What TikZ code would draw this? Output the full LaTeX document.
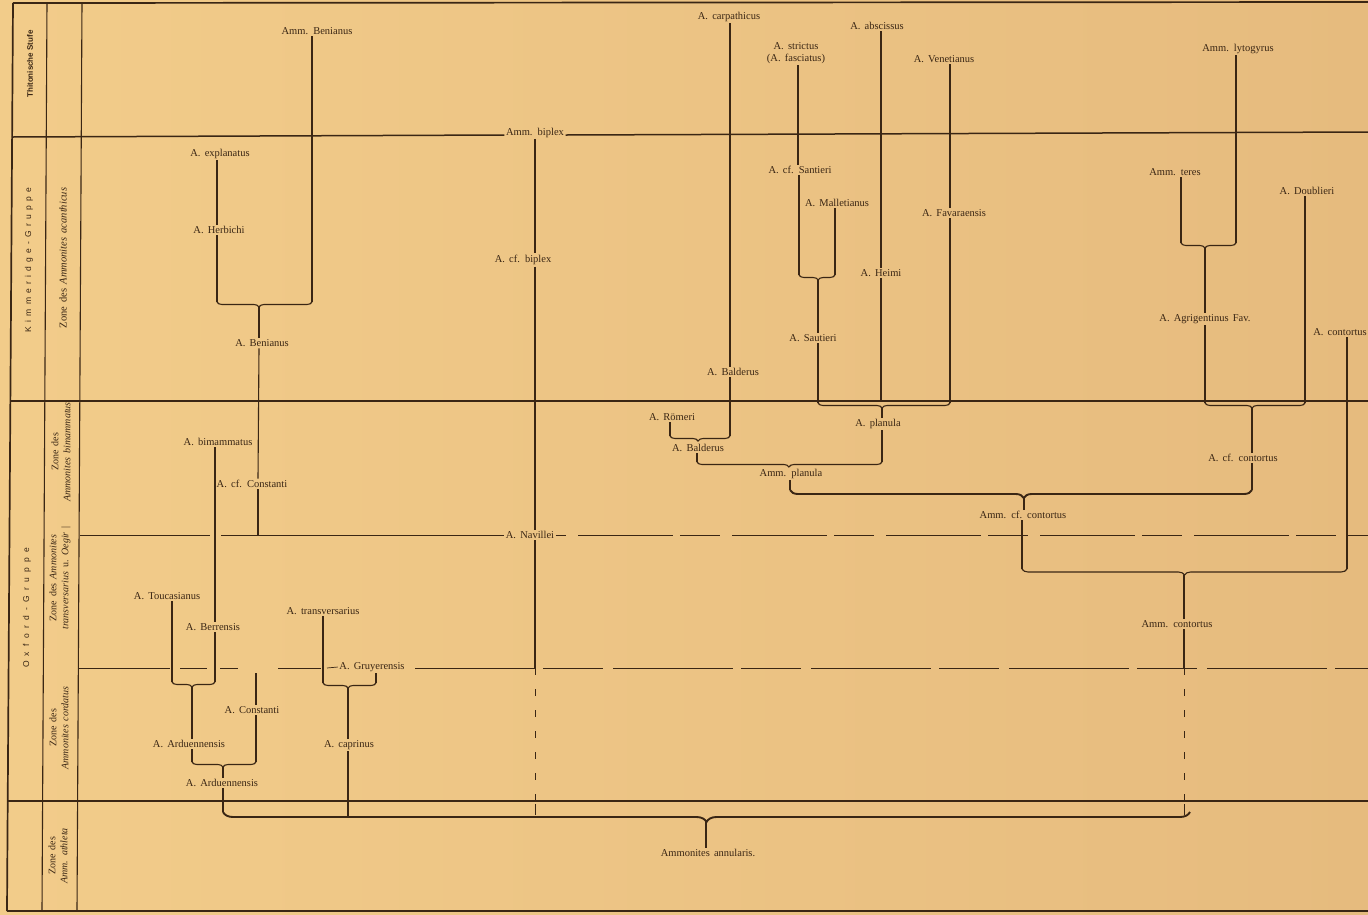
\documentclass[tikz,border=0pt]{standalone}
\usepackage{fontspec}
\setmainfont{Liberation Serif}[WordSpace=1.6]
\newfontfamily\grpfont{Liberation Sans}[LetterSpace=50]
\newfontfamily\grpwidefont{Liberation Sans}[LetterSpace=62]
\newfontfamily\stufefont{Liberation Sans}
\usetikzlibrary{decorations.pathreplacing}
\definecolor{ink}{HTML}{3A2614}
\definecolor{paperL}{HTML}{F2CC8A}
\definecolor{paperR}{HTML}{E6BB7E}
\begin{document}
\begin{tikzpicture}[x=1pt,y=-1pt,
  lbl/.style={inner sep=1.5pt, text=ink, font=\fontsize{10.5}{12}\selectfont},
  zonetxt/.style={inner sep=0pt, text=ink, rotate=90, align=center, font=\fontsize{10}{12}\selectfont},
  grptxt/.style={inner sep=0pt, text=ink, rotate=90, font=\grpfont\fontsize{8.5}{10}\selectfont},
  conn/.style={draw=ink, line width=1.1pt},
  stage/.style={draw=ink, line width=1.7pt},
  zone/.style={draw=ink, line width=0.7pt},
  dsh/.style={draw=ink, line width=1pt, dash pattern=on 7pt off 14pt},
  brc/.style={draw=ink, line width=1.1pt, decorate, decoration={brace, amplitude=5pt, aspect=#1}},
  brc/.default=0.5,
  bigbrc/.style={draw=ink, line width=1.9pt, decorate, decoration={brace, amplitude=#1}},
  bigbrc/.default=8pt
]
\useasboundingbox (0,0) rectangle (1368,914);
\shade[left color=paperL, right color=paperR] (0,0) rectangle (1368,914);

% ---------- frame and stage lines ----------
\draw[stage] (13,3) -- (1368,2);
\draw[stage] (7,911) -- (1368,911);
\draw[stage] (13,3) -- (7,911);
\draw[conn] (47,3) -- (42,911);
\draw[conn] (82,3) -- (77,911);
\draw[stage] (11,401) -- (1368,401);
\draw[stage] (8,801) -- (1368,801);

% ---------- left columns ----------
\node[grptxt, font=\stufefont\bfseries\fontsize{8}{10}\selectfont] (stTith) at (30,64) {Thitonische Stufe};
\node[grptxt] (stKimm) at (29,260) {Kimmeridge-Gruppe};
\node[grptxt, font=\grpwidefont\fontsize{8.5}{10}\selectfont] (stOxf) at (27,608) {Oxford-Gruppe};
\node[zonetxt, font=\fontsize{10.5}{12}\selectfont] (zAcan) at (63,258) {Zone des \textit{Ammonites acanthicus}};
\node[zonetxt] (zBim) at (61,452) {Zone des\\\textit{Ammonites bimammatus}};
\node[zonetxt] (zTrans) at (60,578) {Zone des \textit{Ammonites}\\\textit{transversarius} u. \textit{Oegir} |};
\node[zonetxt] (zCord) at (59,728) {Zone des\\\textit{Ammonites cordatus}};
\node[zonetxt] (zAth) at (58,856) {Zone des\\\textit{Amm. athleta}};

% ---------- labels: Thitonische Stufe ----------
\node[lbl] (T1) at (317,31) {Amm. Benianus};
\node[lbl] (T2) at (729,17) {A. carpathicus};
\node[lbl, align=center] (T3) at (796,53) {A. strictus\\(A. fasciatus)};
\node[lbl] (T4) at (877,26) {A. abscissus};
\node[lbl] (T5) at (944,59) {A. Venetianus};
\node[lbl] (T6) at (1238,49) {Amm. lytogyrus};
\node[lbl, anchor=base] (biplex) at (535,135) {Amm. biplex};

% ---------- labels: Kimmeridge ----------
\node[lbl] (explanatus) at (220,154) {A. explanatus};
\node[lbl] (Herbichi) at (219,230) {A. Herbichi};
\node[lbl] (Benianus2) at (262,343) {A. Benianus};
\node[lbl] (cfbiplex) at (523,260) {A. cf. biplex};
\node[lbl] (cfSantieri) at (800,170) {A. cf. Santieri};
\node[lbl] (Malletianus) at (837,203) {A. Malletianus};
\node[lbl] (Sautieri) at (813,338) {A. Sautieri};
\node[lbl] (Heimi) at (881,273) {A. Heimi};
\node[lbl] (Favaraensis) at (954,213) {A. Favaraensis};
\node[lbl] (Balderus1) at (733,372) {A. Balderus};
\node[lbl] (teres) at (1175,172) {Amm. teres};
\node[lbl] (Agrigentinus) at (1205,319) {A. Agrigentinus Fav.};
\node[lbl] (Doublieri) at (1307,191) {A. Doublieri};
\node[lbl] (contortus1) at (1340,332) {A. contortus};

% ---------- labels: Oxford ----------
\node[lbl] (bimammatus) at (218,442) {A. bimammatus};
\node[lbl] (cfConstanti) at (252,484) {A. cf. Constanti};
\node[lbl] (Navillei) at (530,535) {A. Navillei};
\node[lbl] (Romeri) at (672,417) {A. Römeri};
\node[lbl] (Balderus2) at (698,448) {A. Balderus};
\node[lbl] (planula1) at (878,424) {A. planula};
\node[lbl] (planula2) at (791,474) {Amm. planula};
\node[lbl] (cfcontortus) at (1243,458) {A. cf. contortus};
\node[lbl] (ammcfcontortus) at (1023,515) {Amm. cf. contortus};
\node[lbl] (Toucasianus) at (167,596) {A. Toucasianus};
\node[lbl] (Berrensis) at (213,627) {A. Berrensis};
\node[lbl] (transversarius) at (323,611) {A. transversarius};
\node[lbl] (Gruyerensis) at (372,667) {A. Gruyerensis};
\node[lbl] (ammcontortus) at (1177,624) {Amm. contortus};
\node[lbl] (Constanti) at (252,710) {A. Constanti};
\node[lbl] (Arduennensis1) at (189,744) {A. Arduennensis};
\node[lbl] (caprinus) at (349,745) {A. caprinus};
\node[lbl] (Arduennensis2) at (222,783) {A. Arduennensis};
\node[lbl] (annularis) at (708,853) {Ammonites annularis.};

% ---------- biplex line and zone lines ----------
\draw[stage, line width=1.5pt] (12,137) -- (biplex.base west);
\draw[stage, line width=1.5pt] (biplex.base east) -- (1368,132);

\coordinate (zA0) at (80,535);
\coordinate (zA1) at (210,535);
\coordinate (zA2) at (221,535);
\coordinate (zA3) at (578,535);
\coordinate (zA4) at (1368,535);
\draw[zone] (zA0) -- (zA1);
\draw[zone] (zA2) -- (Navillei.west);
\draw[zone] (Navillei.east) -- ++(10,0);
\draw[zone, dash pattern=on 95pt off 7pt on 40pt off 12pt] (zA3) -- (zA4);

\coordinate (zB0) at (79,668);
\coordinate (zB1) at (170,668);
\coordinate (zB2) at (180,668);
\coordinate (zB3) at (207,668);
\coordinate (zB4) at (220,668);
\coordinate (zB5) at (238,668);
\coordinate (zB6) at (278,668);
\coordinate (zB7) at (321,668);
\coordinate (zB8) at (327,668);
\coordinate (zB9) at (415,668);
\coordinate (zB10) at (1368,668);
\draw[zone] (zB0) -- (zB1);
\draw[zone] (zB2) -- (zB3);
\draw[zone] (zB4) -- (zB5);
\draw[zone] (zB6) -- (zB7);
\draw[zone] (zB8) -- (Gruyerensis.west);
\draw[zone, dash pattern=on 120pt off 8pt on 60pt off 10pt] (zB9) -- (zB10);

% ---------- brace coordinates ----------
\coordinate (b1R) at (312,302);  \coordinate (b1L) at (217,302);  \coordinate (b1T) at (259,307);
\coordinate (b2R) at (835,275);  \coordinate (b2L) at (799,275);  \coordinate (b2T) at (818,280);
\coordinate (b3R) at (950,403);  \coordinate (b3L) at (818,403);  \coordinate (b3T) at (882,408);
\coordinate (b4R) at (882,462);  \coordinate (b4L) at (697,462);  \coordinate (b4T) at (789,467);
\coordinate (b5R) at (730,436);  \coordinate (b5L) at (670,436);  \coordinate (b5T) at (698,441);
\coordinate (b6R) at (1252,490); \coordinate (b6L) at (790,490);  \coordinate (b6T) at (1024,498);
\coordinate (b7R) at (1305,403); \coordinate (b7L) at (1205,403); \coordinate (b7T) at (1252,408);
\coordinate (b8R) at (1347,569); \coordinate (b8L) at (1022,569); \coordinate (b8T) at (1184,575);
\coordinate (b9R) at (1236,243); \coordinate (b9L) at (1181,243); \coordinate (b9T) at (1205,248);
\coordinate (b10R) at (215,682); \coordinate (b10L) at (172,682); \coordinate (b10T) at (192,687);
\coordinate (b11R) at (256,762); \coordinate (b11L) at (192,762); \coordinate (b11T) at (223,767);
\coordinate (b12R) at (1190,812); \coordinate (b12L) at (223,812); \coordinate (b12T) at (706,822);
\coordinate (b13R) at (376,683); \coordinate (b13L) at (323,683); \coordinate (b13T) at (348,688);

\draw[brc=0.558] (b1R) -- (b1L);
\draw[brc=0.47]  (b2R) -- (b2L);
\draw[brc=0.515] (b3R) -- (b3L);
\draw[brc=0.503] (b4R) -- (b4L);
\draw[brc=0.533] (b5R) -- (b5L);
\draw[bigbrc=8pt, decoration={aspect=0.494}] (b6R) -- (b6L);
\draw[brc=0.53]  (b7R) -- (b7L);
\draw[brc=0.5, decoration={amplitude=6pt}] (b8R) -- (b8L);
\draw[brc=0.564] (b9R) -- (b9L);
\draw[brc=0.535] (b10R) -- (b10L);
\draw[brc=0.516] (b11R) -- (b11L);
\draw[bigbrc=10pt, decoration={aspect=0.5}] (b12R) -- (b12L);
\draw[brc=0.528] (b13R) -- (b13L);

% ---------- free line ends ----------
\coordinate (cfConstEnd) at (258,535);
\coordinate (navSolidEnd) at (535,668);
\coordinate (navDashEnd) at (535,800);
\coordinate (navTickTop) at (535,804);
\coordinate (navTickEnd) at (535,815);
\coordinate (contSolidEnd) at (1184,668);
\coordinate (contDashEnd) at (1184,800);
\coordinate (contTickTop) at (1184,804);
\coordinate (contTickEnd) at (1184,815);
\coordinate (heimiEnd) at (881,401);
\coordinate (constTop) at (256,673);
\coordinate (caprEnd) at (348,816);

% ---------- connectors: left group ----------
\draw[conn] ([xshift=-5pt]T1.south) -- (b1R);
\draw[conn] ([xshift=-3pt]explanatus.south) -- ([xshift=-2pt]Herbichi.north);
\draw[conn] ([xshift=-2pt]Herbichi.south) -- (b1L);
\draw[conn] (b1T) -- ([xshift=-3pt]Benianus2.north);
\draw[conn] ([xshift=-3pt]Benianus2.south) -- ([xshift=6pt]cfConstanti.north);
\draw[conn] ([xshift=6pt]cfConstanti.south) -- (cfConstEnd);
\draw[conn] ([xshift=-3pt]bimammatus.south) -- ([xshift=2pt]Berrensis.north);
\draw[conn] ([xshift=2pt]Berrensis.south) -- (b10R);
\draw[conn] ([xshift=5pt]Toucasianus.south) -- (b10L);
\draw[conn] (b10T) -- ([xshift=3pt]Arduennensis1.north);
\draw[conn] ([xshift=3pt]Arduennensis1.south) -- (b11L);
\draw[conn] (constTop) -- ([xshift=4pt]Constanti.north);
\draw[conn] ([xshift=4pt]Constanti.south) -- (b11R);
\draw[conn] (b11T) -- ([xshift=1pt]Arduennensis2.north);
\draw[conn] ([xshift=1pt]Arduennensis2.south) -- (b12L);
\draw[conn] (transversarius.south) -- (b13L);
\draw[conn] ([xshift=4pt]Gruyerensis.south) -- (b13R);
\draw[conn] (b13T) -- ([xshift=-1pt]caprinus.north);
\draw[conn] ([xshift=-1pt]caprinus.south) -- (caprEnd);

% ---------- connectors: biplex ----------
\draw[conn] (biplex.south) -- ([xshift=12pt]cfbiplex.north);
\draw[conn] ([xshift=12pt]cfbiplex.south) -- ([xshift=5pt]Navillei.north);
\draw[conn] ([xshift=5pt]Navillei.south) -- (navSolidEnd);
\draw[dsh] (navSolidEnd) -- (navDashEnd);
\draw[conn, line width=0.8pt] (navTickTop) -- (navTickEnd);

% ---------- connectors: middle group ----------
\draw[conn] ([xshift=1pt]T2.south) -- ([xshift=-3pt]Balderus1.north);
\draw[conn] ([xshift=-3pt]Balderus1.south) -- (b5R);
\draw[conn] ([xshift=-2pt]Romeri.south) -- (b5L);
\draw[conn] (Balderus2.south -| b4L) -- (b4L);
\draw[conn] ([xshift=2pt]T3.south) -- ([xshift=-2pt]cfSantieri.north);
\draw[conn] ([xshift=-1pt]cfSantieri.south) -- (b2L);
\draw[conn] ([xshift=-2pt]Malletianus.south) -- (b2R);
\draw[conn] (b2T) -- ([xshift=5pt]Sautieri.north);
\draw[conn] ([xshift=5pt]Sautieri.south) -- (b3L);
\draw[conn] ([xshift=4pt]T4.south) -- (Heimi.north);
\draw[conn] (Heimi.south) -- (heimiEnd);
\draw[conn] ([xshift=6pt]T5.south) -- ([xshift=-4pt]Favaraensis.north);
\draw[conn] ([xshift=-4pt]Favaraensis.south) -- (b3R);
\draw[conn] (b3T) -- ([xshift=4pt]planula1.north);
\draw[conn] ([xshift=4pt]planula1.south) -- (b4R);
\draw[conn] (planula2.south -| b6L) -- (b6L);
\draw[conn] (b6T) -- (ammcfcontortus.north -| b6T);
\draw[conn] ([xshift=-1pt]ammcfcontortus.south) -- (b8L);

% ---------- connectors: right group ----------
\draw[conn] ([xshift=-2pt]T6.south) -- (b9R);
\draw[conn] ([xshift=6pt]teres.south) -- (b9L);
\draw[conn] (b9T) -- (Agrigentinus.north);
\draw[conn] (Agrigentinus.south) -- (b7L);
\draw[conn] ([xshift=-2pt]Doublieri.south) -- (b7R);
\draw[conn] (b7T) -- ([xshift=9pt]cfcontortus.north);
\draw[conn] ([xshift=9pt]cfcontortus.south) -- (b6R);
\draw[conn] ([xshift=7pt]contortus1.south) -- (b8R);
\draw[conn] (b8T) -- ([xshift=7pt]ammcontortus.north);
\draw[conn] ([xshift=7pt]ammcontortus.south) -- (contSolidEnd);
\draw[dsh] (contSolidEnd) -- (contDashEnd);
\draw[conn, line width=0.8pt] (contTickTop) -- (contTickEnd);

% ---------- root ----------
\draw[conn] (b12T) -- ([xshift=-2pt]annularis.north);
\end{tikzpicture}
\end{document}
